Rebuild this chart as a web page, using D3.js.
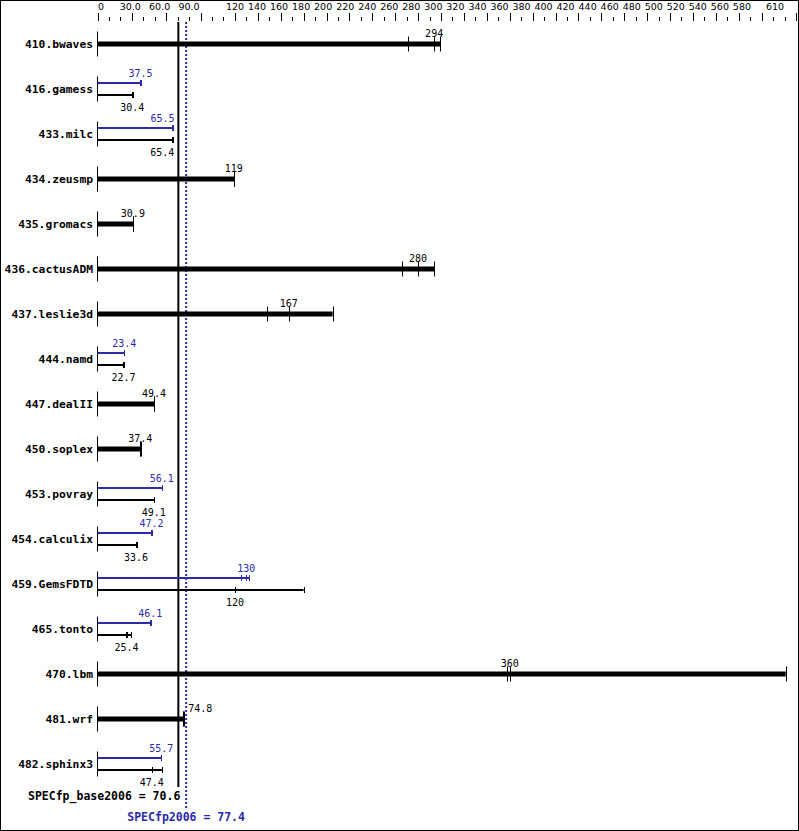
<!DOCTYPE html>
<html><head><meta charset="utf-8">
<script src="https://cdn.jsdelivr.net/npm/d3@7"></script>
<style>html,body{margin:0;padding:0;background:#fff;}svg{display:block;}</style>
</head><body>
<svg id="chart" width="799" height="831"></svg>
<script>
const benchmarks = ["410.bwaves","416.gamess","433.milc","434.zeusmp","435.gromacs","436.cactusADM","437.leslie3d","444.namd","447.dealII","450.soplex","453.povray","454.calculix","459.GemsFDTD","465.tonto","470.lbm","481.wrf","482.sphinx3"];
// base runs (median shown as label)
const baseMedian = [294, 30.4, 65.4, 119, 30.9, 280, 167, 22.7, 49.4, 37.4, 49.1, 33.6, 120, 25.4, 360, 74.8, 47.4];
const baseMin    = [271.5, 30.3, 65.3, 118.8, 30.8, 266.3, 147.8, 22.6, 49.3, 37.3, 49.0, 33.4, 119.8, 25.3, 357.5, 74.6, 47.3];
const baseMax    = [299.5, 30.6, 65.5, 119.2, 31.0, 294.2, 205.3, 22.8, 49.6, 37.6, 49.3, 34.4, 180, 29.2, 601, 75.6, 56.2];
// peak runs (null = same as base, drawn as a single thick bar)
const peakMedian = [null, 37.5, 65.5, null, null, null, null, 23.4, null, null, 56.1, 47.2, 130, 46.1, null, null, 55.7];
const peakMin    = [null, 37.4, 65.4, null, null, null, null, 23.3, null, null, 56.0, 47.0, 124.9, 46.0, null, null, 55.5];
const peakMax    = [null, 37.6, 65.7, null, null, null, null, 23.5, null, null, 56.3, 47.3, 132.4, 46.3, null, null, 55.8];
const baseMean = 70.6;
const peakMean = 77.4;
const majorTicks = [0, 30, 60, 90, 120, 140, 160, 180, 200, 220, 240, 260, 280, 300, 320, 340, 360, 380, 400, 420, 440, 460, 480, 500, 520, 540, 560, 580, 610];
const tickLabels = ["0","30.0","60.0","90.0","120","140","160","180","200","220","240","260","280","300","320","340","360","380","400","420","440","460","480","500","520","540","560","580","610"];
const minorTicks = [10, 20, 40, 50, 70, 80, 100, 110, 130, 150, 170, 190, 210, 230, 250, 270, 290, 310, 330, 350, 370, 390, 410, 430, 450, 470, 490, 510, 530, 550, 570, 590, 600];

const BLUE = "#2b2bab";
const MONO = "'DejaVu Sans Mono', 'Liberation Mono', monospace";
const SANS = "'DejaVu Sans', sans-serif";
const svg = d3.select("#chart");
const W = 799, H = 831;

const x = d3.scaleLinear().domain([0, 610]).range([97.5, 796]);
// tick-label layout scale (labels are packed slightly tighter than the ticks, as in the reference)
const xLabel = d3.scaleLinear().domain([0, 90, 120, 610]).range([101, 189, 235, 775]);
const y = d3.scalePoint().domain(benchmarks).range([44, 764]);

// frame
svg.append("rect").attr("x", 0.5).attr("y", 0.5).attr("width", W - 1).attr("height", H - 1)
  .attr("fill", "none").attr("stroke", "#000");

// axis ticks
const ax = svg.append("g");
ax.selectAll("line.maj").data(majorTicks).join("line")
  .attr("x1", d => Math.round(x(d)) + 0.5).attr("x2", d => Math.round(x(d)) + 0.5)
  .attr("y1", 13).attr("y2", 21).attr("stroke", "#000");
ax.selectAll("line.min").data(minorTicks).join("line")
  .attr("x1", d => Math.round(x(d)) + 0.5).attr("x2", d => Math.round(x(d)) + 0.5)
  .attr("y1", 17).attr("y2", 21).attr("stroke", "#000");
ax.selectAll("text").data(majorTicks).join("text")
  .attr("x", d => xLabel(d))
  .attr("y", 10).attr("text-anchor", "middle")
  .attr("font-family", SANS).attr("font-size", 9.5).attr("fill", "#000")
  .text((d, i) => tickLabels[i]);

const xb = x(baseMean), xp = x(peakMean);
// mean lines
svg.append("line").attr("x1", xb).attr("x2", xb).attr("y1", 22).attr("y2", 787)
  .attr("stroke", "#000").attr("stroke-width", 2);
svg.append("line").attr("x1", xp).attr("x2", xp).attr("y1", 22).attr("y2", 808)
  .attr("stroke", BLUE).attr("stroke-width", 2).attr("stroke-dasharray", "2,2");

const fmt = v => String(v);
function labelPos(v) {
  const px = x(v);
  const half = fmt(v).length * 3.1;
  if (px + half > xb - 2 && px - half < xp + 2) {
    if (px < xb) return { x: px + 2, anchor: "end" };
    return { x: xp + 2, anchor: "start" };
  }
  return { x: px, anchor: "middle" };
}

const rows = svg.append("g");
benchmarks.forEach((name, i) => {
  const c = y(name);
  const g = rows.append("g");
  g.append("text").attr("x", 93).attr("y", c + 4).attr("text-anchor", "end")
    .attr("font-family", MONO).attr("font-size", 11.3).attr("font-weight", "bold").text(name);
  g.append("line").attr("x1", 97.5).attr("x2", 97.5).attr("y1", c - 12.5).attr("y2", c + 12.5).attr("stroke", "#000");

  function drawBar(yy, mn, md, mx, color, thick, lblY) {
    g.append("rect").attr("x", x(0)).attr("y", yy - thick / 2).attr("width", x(mx) - x(0)).attr("height", thick).attr("fill", color);
    const th = thick > 2 ? 7.5 : 3;
    [mn, md, mx].forEach(v => {
      g.append("line").attr("x1", Math.round(x(v)) + 0.5).attr("x2", Math.round(x(v)) + 0.5)
        .attr("y1", yy - th).attr("y2", yy + th).attr("stroke", color);
    });
    const lp = labelPos(md);
    g.append("text").attr("x", lp.x).attr("y", lblY).attr("text-anchor", lp.anchor)
      .attr("font-family", MONO).attr("font-size", 10).attr("fill", color).text(fmt(md));
  }

  if (peakMedian[i] === null) {
    drawBar(c, baseMin[i], baseMedian[i], baseMax[i], "#000", 5, c - 7);
  } else {
    drawBar(c - 6, peakMin[i], peakMedian[i], peakMax[i], BLUE, 2, c - 12);
    drawBar(c + 6, baseMin[i], baseMedian[i], baseMax[i], "#000", 2, c + 22);
  }
});

svg.append("text").attr("x", xb + 2).attr("y", 800).attr("text-anchor", "end")
  .attr("font-family", MONO).attr("font-size", 11.5).attr("font-weight", "bold").attr("fill", "#000")
  .text("SPECfp_base2006 = " + baseMean);
svg.append("text").attr("x", xp).attr("y", 821).attr("text-anchor", "middle")
  .attr("font-family", MONO).attr("font-size", 11.5).attr("font-weight", "bold").attr("fill", BLUE)
  .text("SPECfp2006 = " + peakMean);
</script>
</body></html>
